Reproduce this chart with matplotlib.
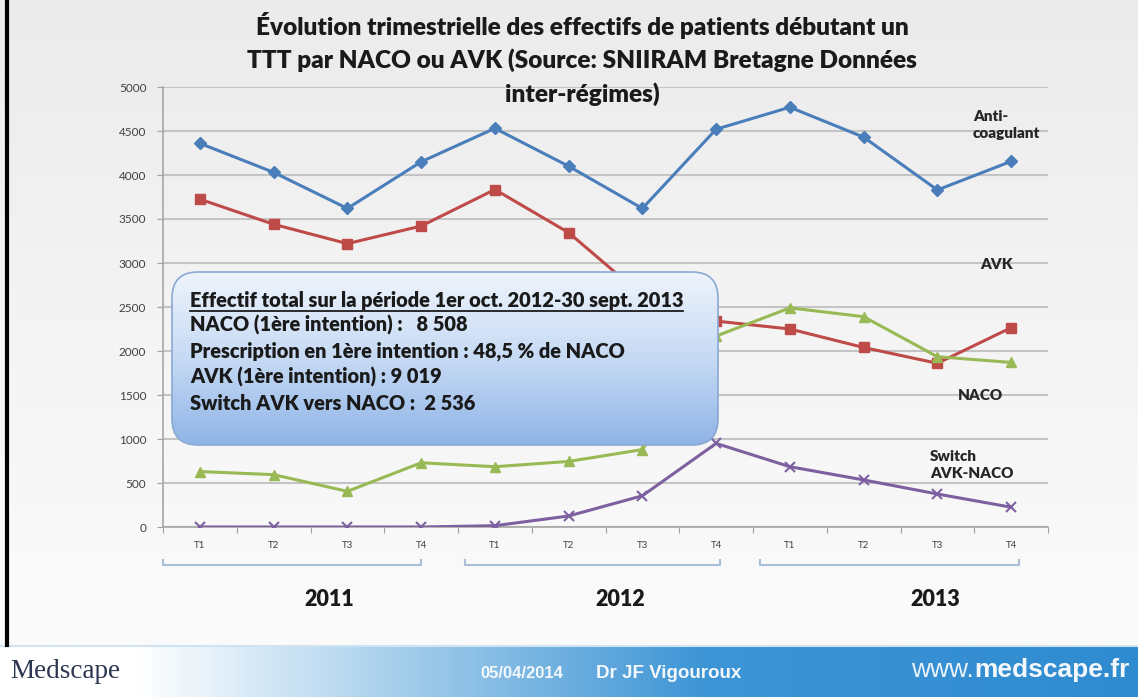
import numpy as np
import matplotlib
matplotlib.use("Agg")
import matplotlib.pyplot as plt
from matplotlib.patches import FancyBboxPatch
from matplotlib.colors import LinearSegmentedColormap
import matplotlib.transforms as mtransforms

# Données
trimestres = ["T1", "T2", "T3", "T4"] * 3
annees = ["2011", "2012", "2013"]
anticoagulant = [4360, 4030, 3620, 4150, 4530, 4100, 3620, 4520, 4770, 4430, 3830, 4155]
avk = [3725, 3440, 3220, 3420, 3835, 3345, 2630, 2340, 2250, 2040, 1860, 2265]
naco = [630, 595, 405, 730, 685, 745, 880, 2170, 2490, 2390, 1935, 1870]
switch = [0, 0, 0, 0, 15, 125, 355, 950, 685, 535, 375, 225]

titre = ("Évolution trimestrielle des effectifs de patients débutant un\n"
         "TTT par NACO ou AVK (Source: SNIIRAM Bretagne Données\n"
         "inter-régimes)")
lignes_encadre = [
    "Effectif total sur la période 1er oct. 2012-30 sept. 2013",
    "NACO (1ère intention) :   8 508",
    "Prescription en 1ère intention : 48,5 % de NACO",
    "AVK (1ère intention) : 9 019",
    "Switch AVK vers NACO :  2 536",
]

W, H = 1138, 697
FONT = ["Lato", "DejaVu Sans"]

fig = plt.figure(figsize=(W / 100, H / 100), dpi=100)

# ── fond ────────────────────────────────────────────────────────────────
bg = fig.add_axes([0, 0, 1, 1])
bg.set_zorder(0)
bg.axis("off")
grad_v = np.linspace(0, 1, 256).reshape(-1, 1)
cmap_bg = LinearSegmentedColormap.from_list("bg", ["#ebebeb", "#f4f4f4", "#fbfbfb"])
bg.imshow(grad_v, extent=(0, W, 645, 0), cmap=cmap_bg, aspect="auto")
grad_h = np.linspace(0, 1, 512).reshape(1, -1)
cmap_pied = LinearSegmentedColormap.from_list(
    "pied", [(0, "#ffffff"), (0.12, "#ffffff"), (0.62, "#3d95d5"), (1, "#2f8bd0")])
bg.imshow(grad_h, extent=(0, W, H, 645), cmap=cmap_pied, aspect="auto")
bg.plot([0, W], [645.5, 645.5], color="#cfe3f3", lw=1.5)
bg.plot([7.5, 7.5], [0, 645], color="black", lw=3)
bg.set_xlim(0, W)
bg.set_ylim(H, 0)

# ── graphique ───────────────────────────────────────────────────────────
ax = fig.add_axes([163 / W, 1 - 527 / H, (1048 - 163) / W, (527 - 87) / H])
ax.set_zorder(1)
ax.patch.set_alpha(0)

x = np.arange(len(trimestres)) + 0.5
series = [
    (anticoagulant, "#4a7ebb", "D", 6),
    (avk, "#be4b48", "s", 7),
    (naco, "#98b954", "^", 7),
    (switch, "#7d60a0", "x", 7),
]
for valeurs, couleur, marq, taille in series:
    ax.plot(x, valeurs, color=couleur, lw=2.2, marker=marq, markersize=taille,
            markeredgewidth=1.5 if marq == "x" else 1, zorder=3)

ax.set_xlim(0, len(trimestres))
ax.set_ylim(0, 5000)
ax.set_yticks(np.arange(0, 5001, 500))
ax.yaxis.grid(True, color="#c4c4c4", lw=1.5)
ax.set_axisbelow(True)
ax.tick_params(axis="y", length=4, color="#a0a0a0", labelsize=8.5, labelcolor="#404040", pad=8)
ax.set_yticklabels([str(v) for v in range(0, 5001, 500)], family=FONT)
ax.set_xticks(np.arange(0, len(trimestres) + 1))
ax.set_xticklabels([])
ax.set_xticks(x, minor=True)
ax.set_xticklabels(trimestres, minor=True, family=FONT, fontsize=7, color="#404040")
ax.tick_params(axis="x", which="major", length=4, color="#a0a0a0")
ax.tick_params(axis="x", which="minor", length=0, pad=10)
for s in ["top", "right"]:
    ax.spines[s].set_visible(False)
for s in ["left", "bottom"]:
    ax.spines[s].set_color("#a6a6a6")
    ax.spines[s].set_linewidth(1.2)

# étiquettes des séries
etiq = [("Anti-\ncoagulant", 10.98, 4570), ("AVK", 11.08, 2980),
        ("NACO", 10.78, 1500), ("Switch\nAVK-NACO", 10.4, 700)]
for txt, xe, ye in etiq:
    ax.text(xe, ye, txt, family=FONT, fontsize=11, fontweight="heavy",
            color="#262626", ha="left", va="center", linespacing=1.35, zorder=4)

# accolades des années
trans = mtransforms.blended_transform_factory(ax.transData, ax.transAxes)
y_acc = -38 / 440
pos_annees = [2.25, 6.2, 10.47]
for i, an in enumerate(annees):
    x0 = 4 * i + (0.0 if i == 0 else 0.1)
    x1 = 4 * i + 3.5 + 0.05 * i
    ax.plot([x0, x0, x1, x1], [y_acc + 0.012, y_acc, y_acc, y_acc + 0.012],
            color="#a9bdd6", lw=1.5, transform=trans, clip_on=False)
    ax.text(pos_annees[i], -73 / 440, an, transform=trans, family=FONT,
            fontsize=15.5, fontweight="heavy", color="#1a1a1a", ha="center", va="center")

# ── titre ───────────────────────────────────────────────────────────────
fig.text(582 / W, 1 - 59 / H, titre, family=FONT, fontsize=17.6, fontweight="heavy",
         color="#1a1a1a", ha="center", va="center", linespacing=1.48)

# ── encadré ─────────────────────────────────────────────────────────────
ov = fig.add_axes([0, 0, 1, 1])
ov.set_zorder(5)
ov.patch.set_alpha(0)
ov.axis("off")
boite = FancyBboxPatch((172, 272), 546, 173, boxstyle="round,pad=0,rounding_size=26",
                       facecolor="none", edgecolor="#8aa9d3", lw=1.2, zorder=2)
ov.add_patch(boite)
cmap_boite = LinearSegmentedColormap.from_list("boite", ["#eef4fc", "#c6daf4", "#8fb4e6"])
im = ov.imshow(grad_v, extent=(172, 718, 445, 272), cmap=cmap_boite, aspect="auto", zorder=1)
im.set_clip_path(boite)
ov.set_xlim(0, W)
ov.set_ylim(H, 0)

ys = [300, 325, 351, 377, 404]
textes = []
for ligne, yl in zip(lignes_encadre, ys):
    t = ov.text(190, yl, ligne, family=FONT, fontsize=14.4, fontweight="heavy",
                color="#1a1a1a", ha="left", va="center", zorder=3)
    textes.append(t)

# ── pied de page ────────────────────────────────────────────────────────
PIED = ["Liberation Sans", "DejaVu Sans"]
fig.text(10 / W, 1 - 671 / H, "Medscape", family=["Liberation Serif", "DejaVu Serif"],
         fontsize=19.5, color="#2c3650", ha="left", va="center")
fig.text(480 / W, 1 - 673 / H, "05/04/2014", family=PIED, fontsize=12,
         fontweight="bold", color="#f4f8fc", ha="left", va="center")
fig.text(596 / W, 1 - 673 / H, "Dr JF Vigouroux", family=PIED, fontsize=13.5,
         fontweight="bold", color="#f4f8fc", ha="left", va="center")
url_gras = fig.text(1130 / W, 1 - 670 / H, "medscape.fr", family=PIED, fontsize=19,
                    fontweight="bold", color="#f4f8fc", ha="right", va="center")

fig.canvas.draw()
bb = textes[0].get_window_extent().transformed(ov.transData.inverted())
ov.plot([bb.x0, bb.x1], [311, 311], color="#1a1a1a", lw=1.3, zorder=3)
ov.set_xlim(0, W)
ov.set_ylim(H, 0)
bu = url_gras.get_window_extent()
fig.text((bu.x0 - 1) / W, 1 - 670 / H, "www.", family=PIED, fontsize=19,
         color="#eaf2fa", ha="right", va="center")

fig.savefig("out.png", dpi=100)
